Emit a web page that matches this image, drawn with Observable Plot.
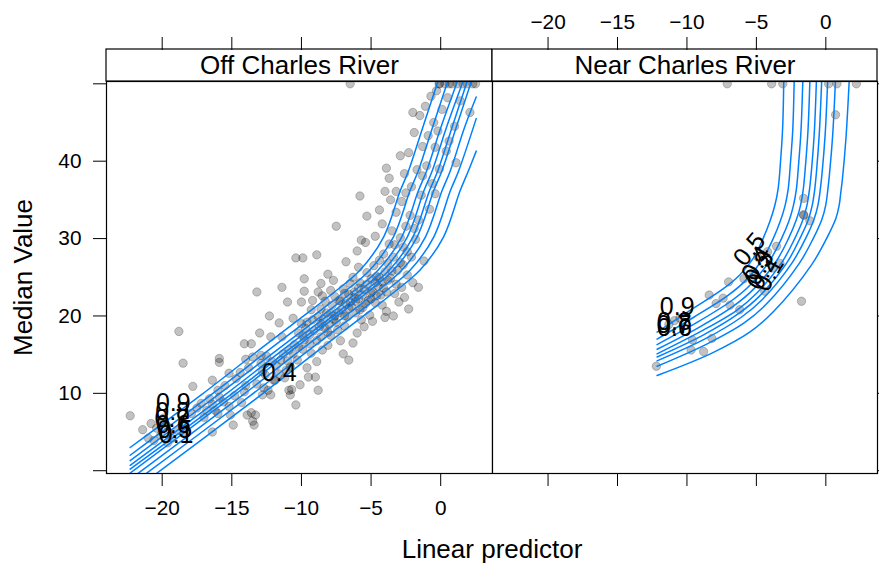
<!DOCTYPE html>
<html><head><meta charset="utf-8">
<script src="https://cdn.jsdelivr.net/npm/d3@7"></script>
<script src="https://cdn.jsdelivr.net/npm/@observablehq/plot@0.6"></script>
<style>
body{margin:0;background:#fff;}
#wrap{position:relative;width:879px;height:566px;display:flex;font-family:"Liberation Sans",Arial,Helvetica,sans-serif;}
#wrap svg{display:block;overflow:visible;}
#xlab{position:absolute;left:342px;width:300px;top:534px;text-align:center;font-size:26px;line-height:30px;color:#000;}
</style></head><body>
<div id="wrap"><div id="left"></div><div id="right"></div><div id="xlab">Linear predictor</div></div>
<script>
const FONT = '"Liberation Sans", Arial, Helvetica, sans-serif';
const panelNames = ["Off Charles River", "Near Charles River"];
const xTicks = [-20, -15, -10, -5, 0];
const xTickLabels = ["\u221220", "\u221215", "\u221210", "\u22125", "0"];
const yTicks = [0, 10, 20, 30, 40, 50];
const yTickLabels = ["", "10", "20", "30", "40", ""];
const xDomain = [-24.0, 3.72];
const yDomain = [-0.36, 50.3];
const quantiles = ["0.9", "0.8", "0.7", "0.6", "0.5", "0.4", "0.3", "0.2", "0.1"];

// Off Charles River: quantile curves (0.9 ... 0.1)
const offQ90 = [[-22.3,3.0],[-17.2,9.8],[-12.9,15.8],[-9.7,20.2],[-7.7,23.0],[-5.8,25.9],[-4.1,30.2],[-2.9,36.2],[-2.3,38.8],[-1.3,44.3],[-0.2,50.3]];
const offQ80 = [[-22.3,2.0],[-16.5,9.8],[-12.2,15.8],[-9.0,20.2],[-7.0,23.0],[-5.1,25.9],[-3.4,30.2],[-2.2,36.2],[-1.6,38.8],[-0.6,44.3],[0.5,50.3]];
const offQ70 = [[-22.3,1.3],[-16.0,9.8],[-11.6,15.8],[-8.4,20.2],[-6.4,23.0],[-4.5,25.9],[-2.8,30.2],[-1.6,36.2],[-1.0,38.8],[0.0,44.3],[1.2,50.3]];
const offQ60 = [[-22.3,0.7],[-15.5,9.8],[-11.2,15.8],[-8.0,20.2],[-6.0,23.0],[-4.1,25.9],[-2.4,30.2],[-1.2,36.2],[-0.6,38.8],[0.4,44.3],[1.6,50.3]];
const offQ50 = [[-22.3,0.2],[-15.1,9.8],[-10.8,15.8],[-7.6,20.2],[-5.6,23.0],[-3.7,25.9],[-2.0,30.2],[-0.8,36.2],[-0.2,38.8],[0.8,44.3],[1.9,50.3]];
const offQ40 = [[-22.3,-0.3],[-14.8,9.8],[-10.5,15.8],[-7.3,20.2],[-5.3,23.0],[-3.4,25.9],[-1.7,30.2],[-0.5,36.2],[0.1,38.8],[1.1,44.3],[2.2,50.3]];
const offQ30 = [[-22.3,-1.1],[-14.2,9.8],[-9.9,15.8],[-6.7,20.2],[-4.7,23.0],[-2.8,25.9],[-1.1,30.2],[0.1,36.2],[0.7,38.8],[1.7,44.3],[2.55,48.3]];
const offQ20 = [[-22.3,-1.9],[-13.6,9.8],[-9.3,15.8],[-6.1,20.2],[-4.1,23.0],[-2.2,25.9],[-0.5,30.2],[0.7,36.2],[1.3,38.8],[2.55,45.5]];
const offQ10 = [[-22.3,-2.9],[-12.9,9.8],[-8.6,15.8],[-5.4,20.2],[-3.4,23.0],[-1.5,25.9],[0.2,30.2],[1.4,36.2],[2.0,38.8],[2.55,41.3]];

// Near Charles River: quantile curves (0.9 ... 0.1)
const nearQ90 = [[-12.15,17.9],[-9.8,20.7],[-7.4,23.5],[-6.2,25.3],[-5.24,27.4],[-4.52,30.0],[-4.03,32.2],[-3.67,34.3],[-3.43,36.5],[-3.26,40.0],[-3.11,44.3],[-3.03,50.3]];
const nearQ80 = [[-12.15,17.0],[-9.54,19.8],[-7.09,22.6],[-5.82,24.5],[-4.57,27.3],[-3.79,30.0],[-3.27,32.3],[-2.93,34.3],[-2.71,36.4],[-2.55,39.7],[-2.38,44.1],[-2.28,50.3]];
const nearQ70 = [[-12.15,16.3],[-9.34,19.1],[-6.84,21.9],[-5.5,23.9],[-4.02,27.2],[-3.19,30.0],[-2.65,32.3],[-2.33,34.3],[-2.12,36.4],[-1.97,39.4],[-1.79,43.9],[-1.66,50.3]];
const nearQ60 = [[-12.15,15.7],[-9.16,18.5],[-6.63,21.3],[-5.24,23.4],[-3.56,27.1],[-2.69,30.0],[-2.13,32.4],[-1.82,34.3],[-1.63,36.3],[-1.48,39.1],[-1.29,43.8],[-1.15,50.3]];
const nearQ50 = [[-12.15,15.1],[-9.0,18.0],[-6.44,20.7],[-5.0,22.9],[-3.14,27.0],[-2.24,30.0],[-1.66,32.4],[-1.36,34.3],[-1.18,36.3],[-1.03,38.9],[-0.83,43.7],[-0.68,50.3]];
const nearQ40 = [[-12.15,14.7],[-8.87,17.5],[-6.29,20.3],[-4.81,22.5],[-2.8,26.9],[-1.87,30.0],[-1.27,32.4],[-0.98,34.3],[-0.81,36.2],[-0.67,38.7],[-0.47,43.6],[-0.30,50.3]];
const nearQ30 = [[-12.15,14.2],[-8.73,17.0],[-6.11,19.8],[-4.59,22.1],[-2.42,26.9],[-1.46,30.0],[-0.85,32.5],[-0.57,34.3],[-0.41,36.2],[-0.27,38.5],[-0.05,43.4],[0.13,50.3]];
const nearQ20 = [[-12.15,13.5],[-8.54,16.4],[-5.88,19.1],[-4.3,21.5],[-1.91,26.8],[-0.91,30.0],[-0.28,32.5],[-0.01,34.3],[0.13,36.1],[0.26,38.3],[0.49,43.3],[0.69,50.3]];
const nearQ10 = [[-12.15,12.3],[-8.2,15.2],[-5.48,17.9],[-3.8,20.5],[-1.03,26.6],[0.05,30.0],[0.72,32.6],[0.96,34.3],[1.08,36.0],[1.20,37.8],[1.45,43.0],[1.68,50.3]];

// Observations: [linear predictor, median value]
const offPoints = [
[-22.3,7.1],[-20.4,5.5],[-20.1,4.6],[-19.7,5.9],[-19.3,4.2],[-19.9,6.8],[-18.9,5.2],[-18.5,6.4],[-18.8,18.0],[-18.5,13.9],[-20.6,3.9],[-19.6,3.6],
[-17.2,8.7],[-16.8,7.8],[-16.2,7.8],[-16.0,7.4],[-16.0,10.4],[-16.4,5.0],[-15.9,14.5],[-15.9,14.0],[-15.9,9.5],[-15.2,8.3],[-15.1,7.2],[-14.9,5.9],[-17.5,8.1],[-16.6,9.3],[-15.5,11.0],
[-14.7,11.9],[-14.1,10.2],[-13.9,7.2],[-13.6,7.5],[-13.5,6.4],[-13.3,7.2],[-13.4,5.9],[-12.8,9.8],[-12.4,10.4],[-11.9,11.7],[-12.5,14.8],[-13.2,23.1],[-13.0,17.8],[-12.2,17.3],[-13.6,16.4],[-14.1,16.4],[-12.9,14.9],[-13.5,14.7],[-12.9,13.9],[-12.7,10.7],[-12.0,11.7],[-12.2,9.8],[-14.4,12.7],[-13.8,13.3],[-12.6,12.4],[-14.3,8.8],
[-11.6,12.5],[-11.2,12.0],[-10.7,10.5],[-10.9,15.6],[-10.8,9.8],[-10.4,27.5],[-9.9,27.5],[-11.4,23.7],[-9.8,23.2],[-10.0,21.8],[-9.3,20.8],[-11.6,19.1],[-10.6,19.7],[-11.4,17.3],[-10.9,10.4],[-10.4,8.5],[-10.1,11.1],[-9.6,13.3],[-9.3,15.2],[-10.3,14.3],[-9.8,16.9],[-11.0,14.2],[-10.5,16.3],[-10.2,17.8],[-9.7,18.4],[-9.4,17.6],[-11.3,15.1],[-10.0,19.0],[-9.2,19.5],[-11.8,13.6],[-9.5,12.1],[-10.8,13.4],[-9.9,15.7],
[-8.9,27.9],[-8.8,23.1],[-8.5,22.6],[-9.0,12.1],[-8.9,14.1],[-8.5,15.6],[-8.6,17.3],[-8.1,16.2],[-7.0,15.1],[-6.3,16.5],[-8.8,10.4],[-8.7,18.6],[-8.4,19.6],[-8.2,20.4],[-8.0,18.9],[-7.8,21.4],[-7.6,20.0],[-7.5,19.2],[-7.3,22.0],[-7.1,20.8],[-7.0,23.5],[-6.8,21.6],[-6.7,19.9],[-6.6,22.8],[-6.5,24.2],[-6.4,21.2],[-6.2,23.1],[-6.1,20.4],[-7.9,17.5],[-7.4,18.2],[-8.3,21.9],[-7.7,24.6],[-6.9,18.7],[-6.3,25.0],[-8.6,20.9],[-7.2,16.8],[-6.6,14.3],[-7.5,31.6],[-6.8,27.0],[-8.1,25.4],
[-5.3,32.9],[-5.7,29.8],[-5.4,29.5],[-4.0,36.1],[-3.2,36.1],[-5.9,22.2],[-5.8,24.3],[-5.6,21.1],[-5.5,23.4],[-5.3,25.6],[-5.2,22.0],[-5.0,24.8],[-4.9,23.2],[-4.8,26.5],[-4.7,21.7],[-4.6,25.1],[-4.5,23.8],[-4.4,27.2],[-4.3,22.7],[-4.2,24.4],[-4.1,28.0],[-4.0,25.7],[-3.9,23.1],[-3.8,26.8],[-3.7,29.3],[-3.6,24.9],[-3.5,31.0],[-3.4,27.6],[-3.3,22.9],[-3.2,33.4],[-3.1,25.9],[-5.9,26.3],[-5.1,20.1],[-4.7,30.3],[-4.2,31.9],[-3.6,35.0],[-3.9,20.6],[-5.5,18.6],[-4.9,19.3],[-3.3,29.2],[-6.0,28.4],[-4.4,33.7],[-5.8,35.5],[-3.7,37.8],
[-2.9,30.1],[-2.8,34.8],[-2.7,26.6],[-2.6,38.4],[-2.5,31.6],[-2.4,28.3],[-2.3,41.1],[-2.2,33.0],[-2.1,36.7],[-2.0,24.3],[-1.9,43.7],[-1.8,29.9],[-1.7,38.9],[-1.6,32.4],[-1.5,45.9],[-1.4,35.6],[-1.3,41.9],[-1.2,27.1],[-1.1,47.1],[-1.0,39.4],[-0.9,43.3],[-0.8,33.8],[-0.7,48.4],[-0.6,37.1],[-0.5,45.0],[-0.4,41.8],[-0.3,49.1],[-0.2,43.9],[-0.1,39.0],[-0.1,50],[-2.6,22.4],[-1.6,23.7],[-2.3,20.9],[-2.5,35.9],
[0.1,46.7],[0.3,50],[0.5,48.2],[0.8,50],[1.0,44.5],[1.2,50],[1.4,47.8],[1.6,50],[1.9,50],[2.1,46.3],[2.3,50],[2.5,50],[0.6,42.6],[1.1,39.8],[-0.1,50],[-6.5,50],
[-9.6,19.2],[-9.1,18.1],[-8.8,19.9],[-8.3,18.4],[-7.9,20.3],[-7.6,22.5],[-7.2,21.9],[-6.9,22.9],[-6.5,21.8],[-6.2,22.4],[-5.9,23.6],[-5.6,22.7],[-5.3,24.1],[-5.0,23.0],[-4.7,24.3],[-4.4,25.0],[-4.1,23.6],[-3.8,24.6],[-3.5,25.8],[-3.2,24.1],[-2.9,26.9],[-2.7,28.9],[-2.4,25.3],[-2.1,27.6],[-1.9,31.3],
[-9.9,17.4],[-9.4,16.4],[-8.9,16.8],[-8.6,19.0],[-8.1,17.9],[-7.7,19.6],[-7.3,20.4],[-6.9,20.0],[-6.6,21.0],[-6.1,21.9],[-5.8,20.8],[-5.4,21.6],[-5.0,22.2],[-4.6,22.6],[-4.2,21.4],
[-10.6,15.1],[-10.2,16.0],[-11.1,13.0],[-11.5,14.3],[-12.1,14.1],[-12.8,12.8],[-13.2,11.2],[-14.0,11.0],[-14.8,9.7],[-15.6,8.9],[-16.4,8.6],[-17.0,6.9],[-17.9,7.4],[-18.3,5.0],[-21.0,4.2],[-21.4,5.3],[-20.8,6.1],
[-6.0,17.8],[-5.7,19.5],[-4.0,19.8],[-3.0,21.8],[-3.4,20.0],[-2.8,23.7],[-7.9,23.3],[-8.6,24.2],[-9.2,22.0],[-9.8,24.8],[-11.0,21.8],[-12.3,20.0],[-14.0,14.4],[-15.2,12.6],[-16.4,11.7],[-17.8,10.9],
[-3.9,39.1],[-2.9,40.7],[-2.0,46.3],[0.6,50],[-1.3,38.1],[-0.4,35.8],[0.4,41.3]
];
const nearPoints = [
[-7.1,50],[-3.9,50],[-3.1,50],[0.2,50],[0.8,50],[2.2,50],[0.7,46.0],[-1.6,35.2],[-1.6,33.1],[-1.6,33.0],[-1.15,32.3],[-1.75,21.9],[-3.55,29.0],[-3.3,26.8],[-4.4,23.2],[-7.0,24.4],[-8.4,22.7],[-7.4,22.3],[-7.9,21.6],[-6.9,21.4],[-6.2,20.8],[-9.6,16.9],[-8.2,17.1],[-9.7,15.6],[-8.8,15.4],[-12.2,13.5],[-10.5,19.7],[-11.3,18.9],[-10.9,19.4],[-4.9,27.6],[-4.2,28.3],[-3.8,26.2],[-5.9,24.8],[-5.2,25.6]
];

// Curve labels (contour-style)
const offLabels = [
{q:"0.9",x:-19.2,y:8.7,r:0},{q:"0.8",x:-19.25,y:7.6,r:0},{q:"0.7",x:-19.3,y:6.7,r:0},{q:"0.6",x:-19.2,y:5.9,r:0},{q:"0.5",x:-19.1,y:5.2,r:0},{q:"0.1",x:-19.0,y:4.6,r:0},{q:"0.4",x:-11.6,y:12.6,r:0}
];
const nearLabels = [
{q:"0.9",x:-10.7,y:21.1,r:0},{q:"0.8",x:-10.9,y:19.2,r:0},{q:"0.7",x:-10.95,y:18.8,r:0},{q:"0.6",x:-10.9,y:18.4,r:0},
{q:"0.5",x:-5.5,y:28.6,r:-50},{q:"0.4",x:-5.0,y:26.8,r:-60},{q:"0.3",x:-4.8,y:26.2,r:-60},{q:"0.2",x:-4.6,y:25.6,r:-60},{q:"0.1",x:-4.1,y:25.4,r:-60}
];

const offCurves = [offQ90, offQ80, offQ70, offQ60, offQ50, offQ40, offQ30, offQ20, offQ10];
const nearCurves = [nearQ90, nearQ80, nearQ70, nearQ60, nearQ50, nearQ40, nearQ30, nearQ20, nearQ10];
const toTable = (curves) => curves.flatMap((c, i) => c.map(([x, y]) => ({x, y, q: quantiles[i]})));
const xFmt = d => xTickLabels[xTicks.indexOf(d)];
const yFmt = d => yTickLabels[yTicks.indexOf(d)];

function panel({name, points, curves, labels, side}) {
  const isLeft = side === "left";
  return Plot.plot({
    width: isLeft ? 492 : 387,
    height: 566,
    marginLeft: isLeft ? 106 : 0,
    marginRight: isLeft ? 0 : 2,
    marginTop: 81,
    marginBottom: 93,
    x: {domain: xDomain},
    y: {domain: yDomain},
    style: {fontFamily: FONT, fontSize: "20.8px", color: "#000", background: "#fff", overflow: "visible"},
    marks: [
      Plot.dot(points, {x: d => d[0], y: d => d[1], r: 4.2, fill: "#000", fillOpacity: 0.24, stroke: "#000", strokeOpacity: 0.22, strokeWidth: 1}),
      Plot.line(toTable(curves), {x: "x", y: "y", z: "q", stroke: "#0080ff", strokeWidth: 1.5, curve: "catmull-rom", clip: true}),
      Plot.text(labels, {x: "x", y: "y", text: "q", rotate: d => d.r, fontSize: 25, fill: "#000"}),
      Plot.frame({stroke: "#000", strokeWidth: 1.2}),
      Plot.rect([name], {x1: () => xDomain[0], x2: () => xDomain[1], y1: () => yDomain[1], y2: () => yDomain[1], insetTop: -32, fill: "#fff", stroke: "#000", strokeWidth: 1.2}),
      Plot.text([name], {text: d => d, frameAnchor: "top", dy: -16, fontSize: 26, lineAnchor: "middle"}),
      Plot.axisX({ticks: xTicks, anchor: "bottom", tickSize: 13, tickPadding: 14, tickFormat: isLeft ? xFmt : () => "", label: null, fontSize: 20.8}),
      Plot.axisX({ticks: xTicks, anchor: "top", tickSize: 13, tickPadding: 8, dy: -32, tickFormat: isLeft ? () => "" : xFmt, label: null, fontSize: 20.8}),
      isLeft
        ? Plot.axisY({ticks: yTicks, anchor: "left", tickSize: 13, tickPadding: 12, tickFormat: yFmt, label: null, fontSize: 20.8})
        : Plot.axisY({ticks: yTicks, anchor: "right", tickSize: 13, tickFormat: () => "", label: null}),
      isLeft ? Plot.text(["Median Value"], {text: d => d, frameAnchor: "left", dx: -83, rotate: -90, fontSize: 26, textAnchor: "middle", lineAnchor: "middle"}) : null
    ]
  });
}

document.getElementById("left").append(panel({name: panelNames[0], points: offPoints, curves: offCurves, labels: offLabels, side: "left"}));
document.getElementById("right").append(panel({name: panelNames[1], points: nearPoints, curves: nearCurves, labels: nearLabels, side: "right"}));
</script>
</body></html>
